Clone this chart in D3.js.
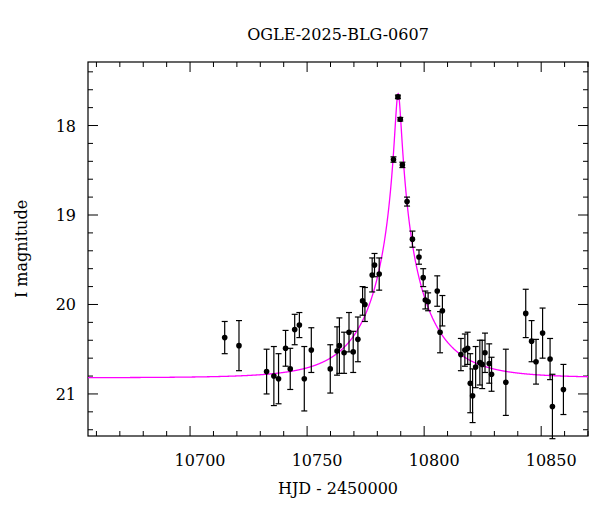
<!DOCTYPE html>
<html>
<head>
<meta charset="utf-8">
<script src="https://cdn.jsdelivr.net/npm/d3@7"></script>
<style>
  body { margin: 0; background: #fff; }
  text { font-family: "DejaVu Serif", serif; fill: #000; }
</style>
</head>
<body>
<script>
// photometry
const hjd = [10714.8, 10720.9, 10732.7, 10735.8, 10737.8, 10740.8, 10742.8, 10744.7, 10746.7, 10748.8,
  10751.8, 10759.9, 10762.8, 10763.8, 10765.8, 10767.9, 10769.7, 10771.7, 10773.7, 10774.7,
  10777.8, 10778.8, 10780.8, 10786.9, 10788.8, 10789.8, 10790.7, 10792.7, 10795.0, 10797.8,
  10799.6, 10800.5, 10801.7, 10805.6, 10806.8, 10807.8, 10815.7, 10817.4, 10818.6, 10819.7,
  10820.7, 10822.0, 10823.8, 10824.8, 10826.0, 10827.8, 10828.8, 10834.9, 10843.4, 10845.9,
  10847.8, 10850.6, 10853.8, 10854.8, 10859.5];
const mag = [20.37, 20.46, 20.75, 20.80, 20.83, 20.49, 20.72, 20.28, 20.23, 20.83,
  20.51, 20.72, 20.52, 20.46, 20.54, 20.31, 20.53, 20.39, 19.96, 20.00,
  19.67, 19.56, 19.66, 18.38, 17.68, 17.93, 18.44, 18.85, 19.27, 19.47,
  19.70, 19.95, 19.97, 19.85, 20.31, 20.07, 20.56, 20.51, 20.49, 20.88,
  21.02, 20.70, 20.65, 20.67, 20.54, 20.66, 20.78, 20.87, 20.10, 20.41,
  20.64, 20.32, 20.61, 21.14, 20.95];
const err = [0.18, 0.28, 0.25, 0.33, 0.28, 0.20, 0.23, 0.17, 0.14, 0.36,
  0.25, 0.27, 0.27, 0.31, 0.23, 0.22, 0.23, 0.25, 0.16, 0.19,
  0.19, 0.13, 0.18, 0.03, 0.02, 0.02, 0.03, 0.05, 0.09, 0.08,
  0.10, 0.10, 0.10, 0.17, 0.23, 0.17, 0.18, 0.18, 0.18, 0.33,
  0.30, 0.23, 0.25, 0.27, 0.22, 0.22, 0.19, 0.37, 0.27, 0.23,
  0.25, 0.28, 0.23, 0.36, 0.28];

// point-lens model parameters
const t0 = 10788.9, tE = 24, u0 = 0.0537, baseMag = 20.82;

const xTicks = [10700, 10750, 10800, 10850];
const yTicks = [18, 19, 20, 21];

const width = 600, height = 512;
const pLeft = 88, pRight = 588, pTop = 62, pBottom = 436;

const svg = d3.select("body").append("svg")
    .attr("width", width).attr("height", height);

const x = d3.scaleLinear().domain([10656.4, 10870]).range([pLeft, pRight]);
const y = d3.scaleLinear().domain([17.29, 21.47]).range([pTop, pBottom]);

// frame
svg.append("rect")
    .attr("x", pLeft).attr("y", pTop)
    .attr("width", pRight - pLeft).attr("height", pBottom - pTop)
    .attr("fill", "none").attr("stroke", "#000").attr("stroke-width", 1.2);

// inward ticks on all four sides
const g = svg.append("g").attr("stroke", "#000").attr("stroke-width", 1);
d3.range(10660, 10871, 10).forEach(t => {
    const len = t % 50 === 0 ? 10 : 5;
    g.append("line").attr("x1", x(t)).attr("x2", x(t)).attr("y1", pBottom).attr("y2", pBottom - len);
    g.append("line").attr("x1", x(t)).attr("x2", x(t)).attr("y1", pTop).attr("y2", pTop + len);
});
d3.range(17.4, 21.41, 0.2).forEach(m => {
    const major = Math.abs(m - Math.round(m)) < 1e-6;
    const len = major ? 10 : 5;
    g.append("line").attr("y1", y(m)).attr("y2", y(m)).attr("x1", pLeft).attr("x2", pLeft + len);
    g.append("line").attr("y1", y(m)).attr("y2", y(m)).attr("x1", pRight).attr("x2", pRight - len);
});

svg.selectAll(".xl").data(xTicks).enter().append("text")
    .attr("x", d => x(d) + 10).attr("y", pBottom + 30)
    .attr("text-anchor", "middle").attr("font-size", 16).text(d => d);
svg.selectAll(".yl").data(yTicks).enter().append("text")
    .attr("x", pLeft - 12).attr("y", d => y(d) + 6)
    .attr("text-anchor", "end").attr("font-size", 16).text(d => d);

svg.append("text").attr("x", (pLeft + pRight) / 2).attr("y", 40)
    .attr("text-anchor", "middle").attr("font-size", 16).text("OGLE-2025-BLG-0607");
svg.append("text").attr("x", (pLeft + pRight) / 2).attr("y", 494)
    .attr("text-anchor", "middle").attr("font-size", 16).text("HJD - 2450000");
svg.append("text").attr("transform", `translate(27,${(pTop + pBottom) / 2}) rotate(-90)`)
    .attr("text-anchor", "middle").attr("font-size", 16).text("I magnitude");

// model curve
const model = t => {
    const u = Math.sqrt(u0 * u0 + ((t - t0) / tE) ** 2);
    const A = (u * u + 2) / (u * Math.sqrt(u * u + 4));
    return baseMag - 2.5 * Math.log10(A);
};
const tgrid = d3.range(10656.4, 10870, 0.1);
svg.append("path")
    .datum(tgrid)
    .attr("d", d3.line().x(t => x(t)).y(t => y(model(t))))
    .attr("fill", "none").attr("stroke", "#ff00ff").attr("stroke-width", 1.3);

// data with error bars
const pts = hjd.map((t, i) => ({ t, m: mag[i], e: err[i] }));
const eb = svg.append("g").attr("stroke", "#000").attr("stroke-width", 1.2);
pts.forEach(d => {
    eb.append("line").attr("x1", x(d.t)).attr("x2", x(d.t)).attr("y1", y(d.m - d.e)).attr("y2", y(d.m + d.e));
    [d.m - d.e, d.m + d.e].forEach(v => {
        eb.append("line").attr("x1", x(d.t) - 3).attr("x2", x(d.t) + 3).attr("y1", y(v)).attr("y2", y(v));
    });
});
svg.selectAll(".pt").data(pts).enter().append("circle")
    .attr("cx", d => x(d.t)).attr("cy", d => y(d.m)).attr("r", 2.8).attr("fill", "#000");
</script>
</body>
</html>
